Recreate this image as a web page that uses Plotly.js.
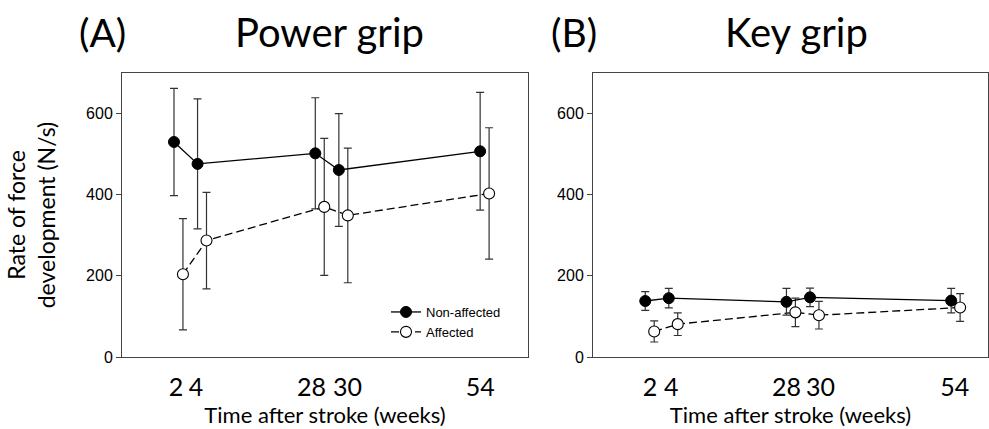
<!DOCTYPE html>
<html><head><meta charset="utf-8">
<script src="https://cdn.plot.ly/plotly-3.0.1.min.js"></script>
<style>html,body{margin:0;padding:0;background:#fff}</style>
</head><body><div id="chart" style="width:989px;height:429px"></div>
<script>
// Data
const weekLabels = ['2', '4', '28', '30', '54'];
const xPos = [1, 2, 7, 8, 14];           // plotting positions of the five sessions
const powerNonAffected    = [530, 476, 502, 461, 507];
const powerNonAffectedErr = [132, 160, 137, 139, 145];
const powerAffected       = [204, 287, 370, 349, 403];
const powerAffectedErr    = [137, 119, 169, 166, 162];
const keyNonAffected      = [138, 145, 136, 147, 139];
const keyNonAffectedErr   = [23, 24, 33, 23, 30];
const keyAffected         = [63, 81, 110, 103, 122];
const keyAffectedErr      = [26, 28, 35, 34, 34];
const yTicks = [0, 200, 400, 600];

// tick-label placement (axis styling, as in the reference figure)
const tickPosA = [1.08, 1.93, 6.84, 8.37, 14.0];
const tickPosB = [1.2, 2.1, 7.0, 8.45, 14.15];

const OFFSET = 0.38;
const xAff = xPos.map(v => v + OFFSET);
const ERRC = '#333';
const LINEC = '#444';
const ARIAL = 'Liberation Sans, Arial, sans-serif';
const CAL = 'Lato, Open Sans, sans-serif';

function naTrace(y, err, xa, ya, show) {
  return {x: xPos, y: y, xaxis: xa, yaxis: ya, type: 'scatter', mode: 'lines+markers',
    name: 'Non-affected', showlegend: show, legendrank: 1,
    line: {color: '#000', width: 1.3},
    marker: {symbol: 'circle', size: 11, color: '#000', line: {color: '#000', width: 1}},
    error_y: {type: 'data', array: err, visible: true, color: ERRC, thickness: 1.2, width: 4}};
}
function afTrace(y, err, xa, ya, show) {
  return {x: xAff, y: y, xaxis: xa, yaxis: ya, type: 'scatter', mode: 'lines+markers',
    name: 'Affected', showlegend: show, legendrank: 2,
    line: {color: '#000', width: 1.3, dash: '8px,4px'},
    marker: {symbol: 'circle', size: 11, color: '#fff', line: {color: '#000', width: 1.1}},
    error_y: {type: 'data', array: err, visible: true, color: ERRC, thickness: 1.2, width: 4}};
}

const data = [
  afTrace(powerAffected, powerAffectedErr, 'x', 'y', true),
  naTrace(powerNonAffected, powerNonAffectedErr, 'x', 'y', true),
  afTrace(keyAffected, keyAffectedErr, 'x2', 'y2', false),
  naTrace(keyNonAffected, keyNonAffectedErr, 'x2', 'y2', false)
];

function xaxis(domain, range, tickPos) {
  return {domain: domain, range: range, tickvals: tickPos, ticktext: weekLabels, ticks: '', tickangle: 0,
    tickfont: {family: CAL, size: 25, color: '#000'}, ticklabelstandoff: 8,
    showgrid: false, zeroline: false, showline: true, mirror: true, linecolor: LINEC, linewidth: 1,
    title: {text: 'Time after stroke (weeks)', font: {family: CAL, size: 22, color: '#000'}, standoff: 2}};
}
function yaxis(domain, anchor, title) {
  const a = {domain: domain, anchor: anchor, range: [0, 700], tickvals: yTicks, ticks: 'outside', ticklen: 5,
    tickcolor: LINEC, tickwidth: 1, tickfont: {family: ARIAL, size: 16, color: '#000'},
    showgrid: false, zeroline: false, showline: true, mirror: true, linecolor: LINEC, linewidth: 1};
  if (title) a.title = {text: title, font: {family: CAL, size: 23, color: '#000'}, standoff: 24};
  return a;
}

const yDom = [1 - 357 / 429, 1 - 73 / 429];
function ann(text, xpx, size) {
  return {text: text, x: xpx / 989, y: 1 - 32 / 429, xref: 'paper', yref: 'paper',
    xanchor: 'center', yanchor: 'middle', showarrow: false, font: {family: CAL, size: size, color: '#000'}};
}
const layout = {
  width: 989, height: 429, margin: {l: 0, r: 0, t: 0, b: 0},
  paper_bgcolor: '#fff', plot_bgcolor: '#fff',
  xaxis: Object.assign(xaxis([122 / 989, 528 / 989], [1 - 52 / 23.55, 1 + 354 / 23.55], tickPosA), {anchor: 'y'}),
  yaxis: yaxis(yDom, 'x', 'Rate of force<br>development (N/s)'),
  xaxis2: Object.assign(xaxis([593 / 989, 988 / 989], [1 - 52.3 / 23.55, 1 + 343 / 23.55], tickPosB), {anchor: 'y2'}),
  yaxis2: yaxis(yDom, 'x2', null),
  showlegend: true,
  legend: {x: 386 / 989, y: 1 - 297 / 429, xanchor: 'left', yanchor: 'top', bgcolor: 'rgba(0,0,0,0)',
    font: {family: ARIAL, size: 13, color: '#000'}, traceorder: 'normal'},
  annotations: [
    ann('(A)', 102.5, 39),
    ann('Power grip', 329.5, 40),
    ann('(B)', 573.5, 39),
    ann('Key grip', 796, 40)
  ]
};

Plotly.newPlot('chart', data, layout, {displayModeBar: false, staticPlot: true});
</script></body></html>
